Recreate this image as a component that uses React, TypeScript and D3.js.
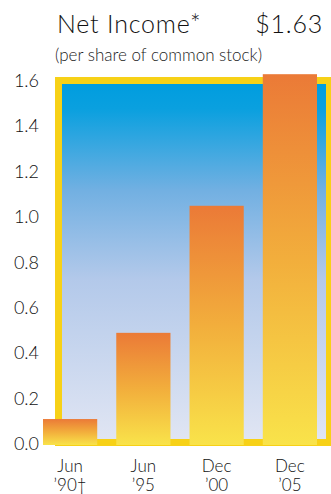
import React from "react";
import * as d3 from "d3";

const categories = ["Jun\n’90†", "Jun\n’95", "Dec\n’00", "Dec\n’05"];
const values = [0.11, 0.49, 1.05, 1.63];
const yTicks = [0, 0.2, 0.4, 0.6, 0.8, 1.0, 1.2, 1.4, 1.6];
const title = "Net Income*";
const titleValue = "$1.63";
const subtitle = "(per share of common stock)";

const W = 331;
const H = 494;
const FONT = "Lato, 'Open Sans', sans-serif";

export default function App() {
  const x = d3.scaleBand<string>().domain(categories).range([43, 317]).paddingInner(0.26).paddingOuter(0);
  const y = d3.scaleLinear().domain([0, 1.6]).range([444, 81]);

  return (
    <svg width={W} height={H} style={{ position: "absolute", left: 0, top: 0 }}>
      <defs>
        <linearGradient id="bg" x1="0" y1="0" x2="0" y2="1">
          <stop offset="0%" stopColor="#009ddf" />
          <stop offset="7%" stopColor="#0aa0df" />
          <stop offset="30%" stopColor="#72b0e2" />
          <stop offset="55%" stopColor="#b3c9ea" />
          <stop offset="100%" stopColor="#e0e5f3" />
        </linearGradient>
        <linearGradient id="bar" x1="0" y1="0" x2="0" y2="1">
          <stop offset="0%" stopColor="#eb7a37" />
          <stop offset="50%" stopColor="#f2ae3c" />
          <stop offset="100%" stopColor="#f9e34a" />
        </linearGradient>
      </defs>
      <rect x={55} y={77} width={276} height={369} fill="#f7d117" />
      <rect x={62} y={84} width={264} height={355} fill="url(#bg)" />
      {values.map((v, i) => (
        <rect
          key={i}
          x={x(categories[i])}
          y={y(v)}
          width={x.bandwidth()}
          height={y(0) - y(v) + 1}
          fill="url(#bar)"
        />
      ))}
      {yTicks.map((t) => (
        <text
          key={t}
          x={39}
          y={y(t) - 1}
          textAnchor="end"
          dominantBaseline="central"
          fontFamily={FONT}
          fontSize={18}
          fontWeight={300}
          fill="#111"
        >
          {t.toFixed(1)}
        </text>
      ))}
      {categories.map((c, i) => {
        const lines = c.split("\n");
        const cx = (x(c) || 0) + x.bandwidth() / 2;
        return (
          <g key={i}>
            {lines.map((l, j) => (
              <text
                key={j}
                x={cx}
                y={472 + j * 19}
                textAnchor="middle"
                fontFamily={FONT}
                fontSize={17}
                fontWeight={300}
                fill="#111"
              >
                {l}
              </text>
            ))}
          </g>
        );
      })}
      <text x={57} y={33} fontFamily={FONT} fontSize={25} fontWeight={300} letterSpacing={0.8} fill="#111">
        {title}
      </text>
      <text x={323} y={33} textAnchor="end" fontFamily={FONT} fontSize={25} fontWeight={300} letterSpacing={0.8} fill="#111">
        {titleValue}
      </text>
      <text x={55} y={61} fontFamily={FONT} fontSize={17} fontWeight={300} fill="#222">
        {subtitle}
      </text>
    </svg>
  );
}
